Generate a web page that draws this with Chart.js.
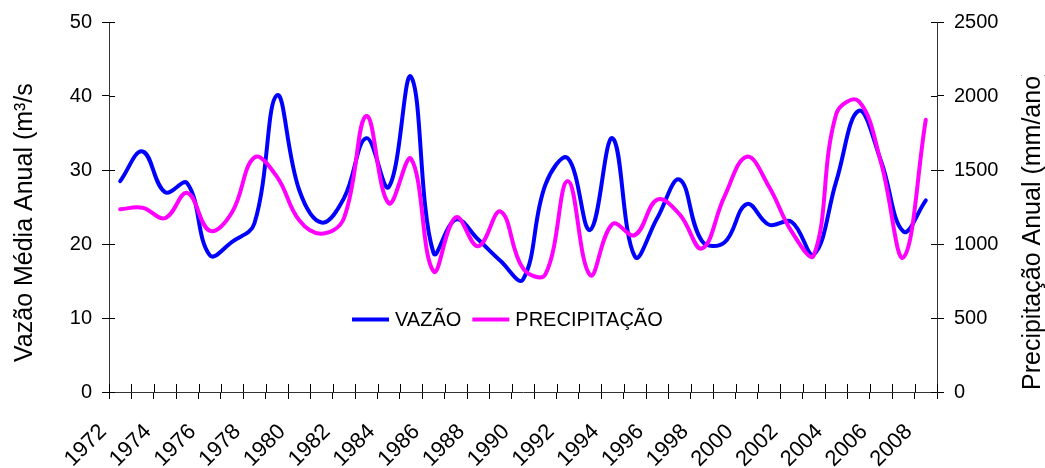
<!DOCTYPE html>
<html>
<head>
<meta charset="utf-8">
<script src="https://cdn.jsdelivr.net/npm/chart.js@4.4.1/dist/chart.umd.min.js"></script>
<style>
    html, body { margin: 0; padding: 0; background: #fff; }
</style>
</head>
<body>
<canvas id="vazao-chart" width="1045" height="468"></canvas>
<script>
const years = ['1972', '1973', '1974', '1975', '1976', '1977', '1978', '1979', '1980', '1981',
               '1982', '1983', '1984', '1985', '1986', '1987', '1988', '1989', '1990', '1991',
               '1992', '1993', '1994', '1995', '1996', '1997', '1998', '1999', '2000', '2001',
               '2002', '2003', '2004', '2005', '2006', '2007', '2008'];

// vazao media anual (m3/s), left axis
const vazao = [28.5, 32.5, 27.0, 28.2, 18.5, 20.3, 22.8, 40.1, 27.3, 22.9,
               26.2, 34.3, 27.7, 42.6, 18.8, 23.3, 20.6, 17.7, 15.2, 28.0,
               31.6, 21.9, 34.3, 18.3, 23.5, 28.7, 20.4, 20.2, 25.4, 22.6,
               23.0, 18.6, 28.5, 38.0, 31.2, 21.7, 25.9];

// precipitacao anual (mm/ano), right axis
const precipitacao = [1235, 1245, 1175, 1345, 1090, 1215, 1585, 1455, 1160, 1070,
                      1175, 1865, 1275, 1575, 815, 1180, 985, 1220, 835, 795,
                      1425, 790, 1135, 1060, 1300, 1200, 970, 1320, 1590, 1385,
                      1085, 925, 1880, 1965, 1550, 910, 1840];

const leftTicks = [0, 10, 20, 30, 40, 50];
const rightTicks = [0, 500, 1000, 1500, 2000, 2500];

const FONT = 'Liberation Sans, Arial, sans-serif';

// axis titles drawn bottom-to-top on both sides, like the original
const axisTitles = {
    id: 'axisTitles',
    afterDraw(chart)
    {
        const ctx = chart.ctx;
        ctx.save();
        ctx.fillStyle = '#000';
        ctx.font = '25px ' + FONT;
        ctx.textAlign = 'left';
        ctx.textBaseline = 'alphabetic';

        ctx.save();
        ctx.beginPath();
        ctx.rect(0, 83, 60, 400);
        ctx.clip();
        ctx.translate(31.5, 362);
        ctx.rotate(-Math.PI / 2);
        ctx.fillText('Vazão Média Anual (m³/s)', 0, 0);
        ctx.restore();

        ctx.save();
        ctx.beginPath();
        ctx.rect(990, 75, 60, 400);
        ctx.clip();
        ctx.translate(1040, 390);
        ctx.rotate(-Math.PI / 2);
        ctx.fillText('Precipitação Anual (mm/ano)', 0, 0);
        ctx.restore();

        ctx.restore();
    }
};

// the tick marks cross the axis lines, so add the inner half
const innerTicks = {
    id: 'innerTicks',
    afterDraw(chart)
    {
        const ctx = chart.ctx;
        const area = chart.chartArea;
        ctx.save();
        ctx.strokeStyle = '#000';
        ctx.lineWidth = 1;
        ctx.beginPath();
        chart.scales.y.ticks.forEach((t, i) => {
            const py = Math.round(chart.scales.y.getPixelForTick(i)) + 0.5;
            ctx.moveTo(area.left, py);
            ctx.lineTo(area.left + 6, py);
        });
        chart.scales.y1.ticks.forEach((t, i) => {
            const py = Math.round(chart.scales.y1.getPixelForTick(i)) + 0.5;
            ctx.moveTo(area.right, py);
            ctx.lineTo(area.right - 6, py);
        });
        const n = years.length;
        for (let i = 0; i <= n; i++)
        {
            const px = Math.round(area.left + (area.right - area.left) * i / n) + 0.5;
            ctx.moveTo(px, area.bottom);
            ctx.lineTo(px, area.bottom - 8);
        }
        ctx.stroke();
        ctx.restore();
    }
};

// legend sits inside the plot, under the curves
const insideLegend = {
    id: 'insideLegend',
    afterDraw(chart)
    {
        const ctx = chart.ctx;
        ctx.save();
        ctx.font = '20px ' + FONT;
        ctx.textBaseline = 'middle';
        ctx.textAlign = 'left';
        let x = 352;
        const y = 319.5;
        chart.data.datasets.forEach(ds => {
            ctx.strokeStyle = ds.borderColor;
            ctx.lineWidth = 4;
            ctx.beginPath();
            ctx.moveTo(x, y);
            ctx.lineTo(x + 37, y);
            ctx.stroke();
            x += 43;
            ctx.fillStyle = '#000';
            ctx.fillText(ds.label, x, y + 1);
            x += ctx.measureText(ds.label).width + 11;
        });
        ctx.restore();
    }
};

const tickFont = { family: FONT, size: 20 };

new Chart(document.getElementById('vazao-chart'), {
    type: 'line',
    data: {
        labels: years,
        datasets: [
            {
                label: 'VAZÃO',
                data: vazao,
                yAxisID: 'y',
                borderColor: '#0000ff',
                backgroundColor: '#0000ff',
                order: 2
            },
            {
                label: 'PRECIPITAÇÃO',
                data: precipitacao,
                yAxisID: 'y1',
                borderColor: '#ff00ff',
                backgroundColor: '#ff00ff',
                order: 1
            }
        ]
    },
    options: {
        responsive: false,
        animation: false,
        layout: { padding: { top: 22, left: 0, right: 0, bottom: 0 } },
        elements: {
            point: { radius: 0 },
            line: { tension: 0.4, borderWidth: 4, borderCapStyle: 'round', borderJoinStyle: 'round' }
        },
        plugins: {
            legend: { display: false },
            tooltip: { enabled: false }
        },
        scales: {
            x: {
                type: 'category',
                offset: true,
                grid: { offset: true, drawOnChartArea: false, tickLength: 7, color: '#000' },
                border: { color: '#333', width: 1 },
                ticks: {
                    autoSkip: false,
                    minRotation: 45,
                    maxRotation: 45,
                    padding: 20,
                    labelOffset: -17,
                    color: '#000',
                    font: { family: FONT, size: 22 },
                    callback: (value, index) => index % 2 === 0 ? years[index] : ''
                },
                afterFit: scale => { scale.height = 76; }
            },
            y: {
                position: 'left',
                min: leftTicks[0],
                max: leftTicks[leftTicks.length - 1],
                grid: { drawOnChartArea: false, tickLength: 7, color: '#000' },
                border: { color: '#333', width: 1 },
                ticks: { stepSize: 10, padding: 10, color: '#000', font: tickFont,
                         callback: value => String(value) },
                afterBuildTicks: scale => { scale.ticks = leftTicks.map(v => ({ value: v })); },
                afterFit: scale => { scale.width = 109; }
            },
            y1: {
                position: 'right',
                min: rightTicks[0],
                max: rightTicks[rightTicks.length - 1],
                grid: { drawOnChartArea: false, tickLength: 7, color: '#000' },
                border: { color: '#333', width: 1 },
                ticks: { stepSize: 500, padding: 10, color: '#000', font: tickFont,
                         callback: value => String(value) },
                afterBuildTicks: scale => { scale.ticks = rightTicks.map(v => ({ value: v })); },
                afterFit: scale => { scale.width = 108; }
            }
        }
    },
    plugins: [axisTitles, innerTicks, insideLegend]
});
</script>
</body>
</html>
